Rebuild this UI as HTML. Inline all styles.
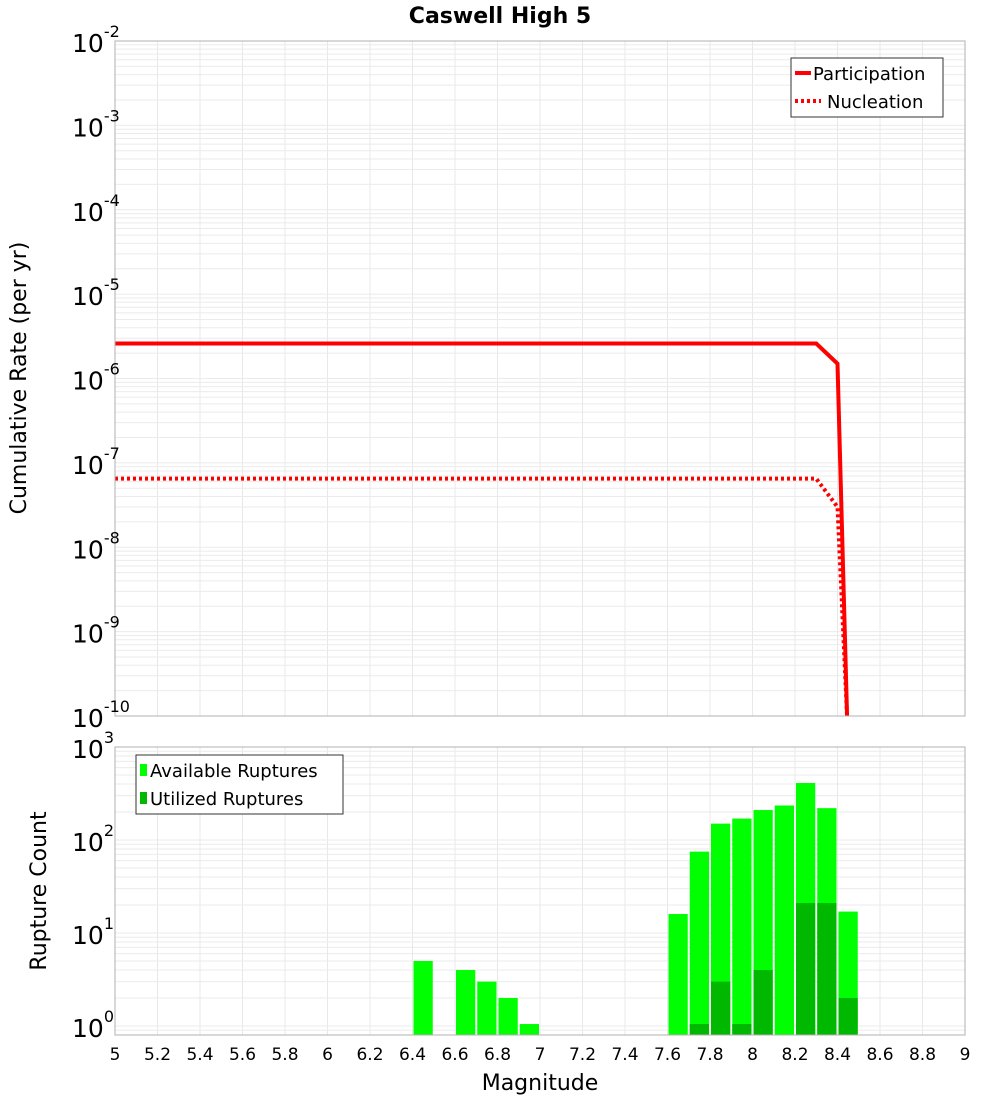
<!DOCTYPE html>
<html><head><meta charset="utf-8"><style>body{margin:0;background:#fff}svg{display:block;font-family:"DejaVu Sans","Liberation Sans",sans-serif}</style></head>
<body>
<svg id="c" width="1000" height="1100"></svg>
<script>
const partMags=[5.0,8.3,8.4,8.445];
const partVals=[2.6e-6,2.6e-6,1.5e-6,1e-10];
const nuclMags=[5.0,8.3,8.4,8.445];
const nuclVals=[6.5e-8,6.5e-8,3.0e-8,1e-10];
const binStarts=[6.4,6.6,6.7,6.8,6.9,7.6,7.7,7.8,7.9,8.0,8.1,8.2,8.3,8.4];
const availCounts=[5,4,3,2,1.05,16,75,150,170,210,235,410,220,17];
const utilCounts=[0,0,0,0,0,0,1.05,3,1.05,4,0,21,21,2];
const xTicks=[5,5.2,5.4,5.6,5.8,6,6.2,6.4,6.6,6.8,7,7.2,7.4,7.6,7.8,8,8.2,8.4,8.6,8.8,9];
const topExps=[-2,-3,-4,-5,-6,-7,-8,-9,-10];
const botExps=[0,1,2,3];

const NS='http://www.w3.org/2000/svg',svg=document.getElementById('c');
function el(t,a,p){const e=document.createElementNS(NS,t);for(const k in a)e.setAttribute(k,a[k]);(p||svg).appendChild(e);return e;}
const L=115,R=965,T1=41,B1=716,T2=747,B2=1035;
const x=m=>L+(m-5)/4*(R-L);
const y1=v=>T1+(-2-Math.log10(v))/8*(B1-T1);
const y2=v=>(B2-9)-Math.log10(v)*93;

const g=el('g',{});
for(let m=5;m<=9.001;m+=0.2){el('line',{x1:x(m),x2:x(m),y1:T1,y2:B1,stroke:'#e8e8e8'},g);el('line',{x1:x(m),x2:x(m),y1:T2,y2:B2,stroke:'#e8e8e8'},g);}
for(let e=-10;e<-2;e++)for(let k=1;k<10;k++){const yy=y1(k*Math.pow(10,e));el('line',{x1:L,x2:R,y1:yy,y2:yy,stroke:'#ebebeb'},g);}
for(let e=-1;e<3;e++)for(let k=1;k<10;k++){const yy=y2(k*Math.pow(10,e));if(yy>T2&&yy<B2)el('line',{x1:L,x2:R,y1:yy,y2:yy,stroke:'#ebebeb'},g);}

let t=el('text',{x:500,y:23,'text-anchor':'middle','font-size':22,'font-weight':'bold'});t.textContent='Caswell High 5';

function poly(ms,vs,dash,name){const p=el('polyline',{points:ms.map((m,i)=>x(m)+','+y1(vs[i])).join(' '),fill:'none',stroke:'#ff0000','stroke-width':4});if(dash)p.setAttribute('stroke-dasharray','3,3');}
poly(partMags,partVals,false,'participation-line');
poly(nuclMags,nuclVals,true,'nucleation-line');
el('rect',{x:L-10,y:B1+1,width:R-L+20,height:T2-B1-2,fill:'#fff'});

const w=(R-L)/40;
binStarts.forEach((b,i)=>{const bx=x(b)+1,bw=w-2;
 let r=el('rect',{x:bx,y:y2(availCounts[i]),width:bw,height:B2-y2(availCounts[i]),fill:'#00ff00'});
 if(utilCounts[i]>0){r=el('rect',{x:bx,y:y2(utilCounts[i]),width:bw,height:B2-y2(utilCounts[i]),fill:'#00b800'});}
});

el('rect',{x:L,y:T1,width:R-L,height:B1-T1,fill:'none',stroke:'#b0b0b0'});
el('rect',{x:L,y:T2,width:R-L,height:B2-T2,fill:'none',stroke:'#b0b0b0'});

function ylab(yy,e){const tx=el('text',{x:72,y:yy+11,'font-size':25});tx.textContent='10';const s=el('tspan',{dy:-15,'font-size':16});s.textContent=String(e);tx.appendChild(s);}
topExps.forEach(e=>ylab(y1(Math.pow(10,e)),e));
botExps.forEach(e=>ylab(y2(Math.pow(10,e)),e));
xTicks.forEach(m=>{const tx=el('text',{x:x(m),y:1060,'text-anchor':'middle','font-size':17});tx.textContent=String(m);});

t=el('text',{x:540,y:1090,'text-anchor':'middle','font-size':22});t.textContent='Magnitude';
t=el('text',{x:0,y:0,'text-anchor':'middle','font-size':22,transform:'translate(26,378) rotate(-90)'});t.textContent='Cumulative Rate (per yr)';
t=el('text',{x:0,y:0,'text-anchor':'middle','font-size':22,transform:'translate(46,891) rotate(-90)'});t.textContent='Rupture Count';

let lg=el('g',{});
el('rect',{x:791,y:58,width:152,height:59,fill:'#fff',stroke:'#333'},lg);
el('line',{x1:795,x2:811,y1:73,y2:73,stroke:'#f00','stroke-width':4},lg);
el('line',{x1:795,x2:821,y1:101,y2:101,stroke:'#f00','stroke-width':4,'stroke-dasharray':'3,3'},lg);
t=el('text',{x:813,y:80,'font-size':18},lg);t.textContent='Participation';
t=el('text',{x:827,y:108,'font-size':18},lg);t.textContent='Nucleation';
lg=el('g',{});
el('rect',{x:136,y:755,width:207,height:59,fill:'#fff',stroke:'#333'},lg);
el('rect',{x:140,y:764,width:7,height:12,fill:'#00ff00'},lg);
el('rect',{x:140,y:792,width:7,height:12,fill:'#00b800'},lg);
t=el('text',{x:150,y:777,'font-size':18},lg);t.textContent='Available Ruptures';
t=el('text',{x:150,y:805,'font-size':18},lg);t.textContent='Utilized Ruptures';
</script>
</body></html>
